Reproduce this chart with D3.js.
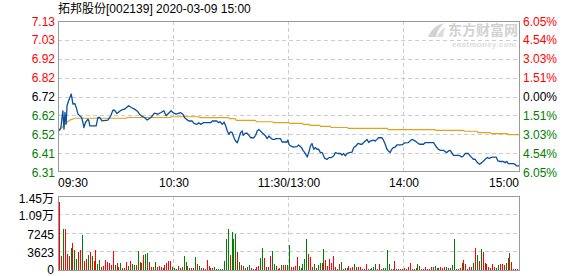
<!DOCTYPE html>
<html><head><meta charset="utf-8">
<script src="https://cdn.jsdelivr.net/npm/d3@7"></script>
<style>
body{margin:0;background:#fff;}
svg{display:block;font-family:"Liberation Sans",Arial,"Noto Sans CJK SC",sans-serif;}
</style>
</head><body><svg id="c" width="578" height="276"></svg>
<script>
// ---------- data ----------
const title = "拓邦股份[002139] 2020-03-09 15:00";
const prevClose = 6.72;
const maxPct = 6.05;
const pctTicks = [6.05, 4.54, 3.03, 1.51, 0, -1.51, -3.03, -4.54, -6.05];
const priceLabels = ["7.13","7.03","6.92","6.82","6.72","6.62","6.52","6.41","6.31"];
const pctLabels = ["6.05%","4.54%","3.03%","1.51%","0.00%","1.51%","3.03%","4.54%","6.05%"];
const timeTicks = [0, 60, 120, 180, 240];
const timeLabels = ["09:30","10:30","11:30/13:00","14:00","15:00"];
const volTicks = [14490, 10868, 7245, 3623, 0];
const volLabels = ["1.45万","1.09万","7245","3623","0"];

// price line: minutes since 09:30 (trading minutes) and price
const priceT = [0,1,2,2.6,3.1,3.7,4.2,5,5.7,6.4,7.3,8.2,9,9.9,10.8,11.8,12.5,13,13.8,15.1,15.6,16.1,19.4,20.3,21.2,22.4,25.5,27,28.1,29,30.3,31.5,32.4,34.2,36.3,37.7,39.4,41.1,42,43,44.6,46,48,49.8,51.5,53.3,54.7,55.9,57.6,58.5,59.4,61,63.5,64.6,65.6,66.5,67.8,69.5,70.4,72,72.9,74,75.3,79.1,80,82.3,83.1,84,85.2,86.1,87,87.8,88.7,89.5,90.4,91.3,92.1,93,93.9,94.7,95.6,96.1,97.3,98.2,99.1,100,101.7,102.6,103.4,104.3,106,107.8,108.6,109.5,110.4,111.3,112.4,113.4,115.6,116.4,119,119.4,120,
120.8,122,124.2,125,126.5,127.3,128.2,129.5,130.3,131.2,132,132.9,133.8,134.6,135.5,136.4,137.3,138.6,139.9,140.8,142.1,143.3,144.2,145.5,146.8,147.6,148.5,149.4,150.3,151.5,152.9,153.8,155,156,157.2,158.1,159,159.8,160.7,161.6,162.4,164.1,165,165.9,166.7,168.5,169.3,170.2,171.1,171.9,172.8,173.6,174.5,175.4,176.3,178.9,180.3,182.3,183.2,184.1,185,185.9,186.8,188.1,190.2,191.1,195.4,196.2,197.1,198,198.9,200.6,201.5,202.3,203.2,204.1,204.9,205.8,208.4,209.3,210.1,211,211.9,213.6,214.5,215.4,216.2,217.1,218.3,219.4,220.6,221.5,222.4,223.5,224.4,225.3,226.2,228.1,229,230.1,231.8,232.7,233.6,234.4,237,237.9,238.8,240];
const priceV = [6.535,6.553,6.643,6.544,6.634,6.571,6.670,6.697,6.715,6.733,6.679,6.682,6.661,6.625,6.616,6.607,6.580,6.553,6.580,6.598,6.589,6.562,6.562,6.607,6.607,6.589,6.593,6.616,6.646,6.646,6.628,6.639,6.646,6.652,6.670,6.661,6.652,6.639,6.625,6.616,6.607,6.593,6.607,6.630,6.625,6.634,6.643,6.616,6.634,6.643,6.634,6.625,6.633,6.624,6.606,6.597,6.588,6.588,6.575,6.570,6.579,6.570,6.579,6.579,6.588,6.588,6.579,6.584,6.570,6.582,6.561,6.534,6.516,6.529,6.525,6.498,6.480,6.471,6.498,6.525,6.534,6.511,6.522,6.522,6.511,6.498,6.498,6.511,6.534,6.543,6.525,6.507,6.493,6.507,6.498,6.489,6.489,6.493,6.493,6.475,6.475,6.486,6.462,
6.454,6.448,6.450,6.459,6.445,6.430,6.418,6.394,6.418,6.454,6.467,6.436,6.445,6.436,6.436,6.418,6.418,6.387,6.382,6.391,6.391,6.400,6.418,6.413,6.413,6.405,6.413,6.400,6.413,6.418,6.421,6.445,6.454,6.467,6.463,6.463,6.472,6.480,6.489,6.472,6.480,6.485,6.480,6.489,6.498,6.498,6.485,6.463,6.436,6.426,6.418,6.436,6.445,6.448,6.459,6.459,6.470,6.472,6.480,6.489,6.485,6.480,6.472,6.463,6.463,6.472,6.472,6.459,6.445,6.436,6.430,6.430,6.423,6.418,6.427,6.430,6.418,6.403,6.403,6.400,6.394,6.400,6.413,6.413,6.400,6.391,6.382,6.382,6.364,6.355,6.364,6.373,6.382,6.391,6.386,6.391,6.394,6.394,6.373,6.370,6.370,6.364,6.370,6.359,6.359,6.355,6.346,6.346];

// average price line
const avgT = [0,2.3,4,5.7,8.3,35,35.5,58,58.5,73,73.5,88.5,89,92,92.5,102.5,103,111.4,112,120,120.5,127,127.5,130.5,131,136,136.5,141.6,142,150.4,151,171.3,171.8,196,196.5,211,211.5,218,218.5,225,225.5,234,234.5,240];
const avgV = [6.535,6.562,6.580,6.593,6.603,6.603,6.607,6.607,6.611,6.611,6.606,6.606,6.601,6.601,6.591,6.591,6.584,6.584,6.579,6.579,6.575,6.575,6.570,6.570,6.565,6.565,6.559,6.559,6.553,6.553,6.548,6.548,6.542,6.542,6.538,6.538,6.533,6.533,6.526,6.526,6.520,6.520,6.515,6.515];

// volume per minute (morning 121 bars, afternoon 120 bars); r = up, g = down
const volAM = [13390,2740,8030,8030,3130,2740,4240,5350,3920,2150,
3590,3920,6860,1760,2150,2940,3590,2740,1760,3920,
1180,1960,650,780,1960,1630,1310,980,3790,980,
1440,520,1310,330,330,1630,780,1760,1180,980,
980,3790,1630,1440,2940,3130,3270,1630,520,650,
1630,520,780,520,400,980,1440,1760,1760,520,330,
130,780,330,520,2740,1630,780,330,330,330,
2480,1180,780,330,330,260,1960,780,330,330,
520,260,260,260,260,1830,6010,8030,2940,7380,
6010,7050,3590,1630,980,780,330,520,980,330,
260,260,520,780,2290,4240,2290,520,520,2740,
3790,1180,780,260,330,980,980,980,980,4830];
const dirAM = "rrgrrrgrgg"+"rrgrrgrgrr"+"ggrrrrrrrg"+"rrgrrrgrgg"+"rgrgrggrrr"+"grrrrrrrrgg"+"grrgggrgrr"+"grggrrrrrr"+"ggggggggrg"+"ggrgrgrggr"+"rrrrggrgrr"+"ggrrrgrrgg";
const volPM = [520,520,780,2480,780,330,1180,2090,6010,3130,
2480,520,1180,330,980,1310,1440,4050,1960,780,
2090,1440,2740,520,260,1180,1630,130,330,330,
780,330,520,1180,520,520,520,260,260,1180,
260,260,330,520,1180,260,1180,260,390,390,
3920,1180,260,260,1830,260,260,260,260,330,
260,520,1440,260,260,330,1180,780,260,260,
520,260,260,520,520,780,330,330,520,330,
520,650,390,390,980,6010,260,260,330,1310,
1960,1180,260,520,520,1440,4240,2940,1830,4050,
3590,1440,1180,520,330,1180,520,330,980,1180,
1180,980,1440,2290,3270,1630,260,260,260,6400];
const dirPM = "rrrrgggggr"+"rrgrggrgrr"+"rrrrgrgggr"+"rrrgrrrrrr"+"grgggrrrgg"+"ggrrrrrrrr"+"rrrrgrggrr"+"rrrrrggrrr"+"rgrgggrrrg"+"rrrrrgrgrg"+"rrrrrrrggr"+"rrgrgrrrrg";

// ---------- drawing ----------
const svg = d3.select("#c");
const L = 58, R = 519, T = 21, B = 172, VT = 196, VB = 270;
const RED = "#ff0000", GREEN = "#008000", GRID = "#cccccc", BORDER = "#999999";

const x = d3.scaleLinear().domain([0, 240]).range([59, 519]);
const yPct = d3.scaleLinear().domain([-maxPct, maxPct]).range([B, T]);
const toPct = p => (p / prevClose - 1) * 100;
const yP = p => yPct(toPct(p));
const yV = d3.scaleLinear().domain([0, 14490]).range([VB, VT]);

// title
svg.append("text").attr("x", 58).attr("y", 13).attr("font-size", 12).attr("fill", "#000").text(title);

// watermark
const wm = svg.append("g").attr("fill", "#d2d2d2");
wm.append("path").attr("d", "M428,37 C431,30 436,25 444,23 C440,27 437,31 436,37 Z");
wm.append("path").attr("d", "M437,37 C439,32 442,29 446,27 C444,30 443,33 443,37 Z").attr("fill", "#dcdcdc");
wm.append("text").attr("x", 448).attr("y", 35).attr("font-size", 14).attr("font-weight", "bold").attr("font-family", "Noto Sans CJK SC").attr("textLength", 70).text("东方财富网");
wm.append("text").attr("x", 452).attr("y", 47).attr("font-size", 8).attr("font-weight", "bold").attr("fill", "#dddddd").attr("textLength", 64).text("eastmoney.com");

// grid main
const gm = svg.append("g").attr("stroke", GRID).attr("stroke-dasharray", "4,3").attr("shape-rendering", "crispEdges");
gm.selectAll("line.h").data(pctTicks.slice(1, -1)).join("line")
  .attr("x1", L).attr("x2", R).attr("y1", d => Math.round(yPct(d)) + 0.5).attr("y2", d => Math.round(yPct(d)) + 0.5);
gm.selectAll("line.v").data(timeTicks.slice(1, -1)).join("line")
  .attr("y1", T).attr("y2", B).attr("x1", d => Math.round(x(d)) - 0.5).attr("x2", d => Math.round(x(d)) - 0.5);

// grid volume
const gv = svg.append("g").attr("stroke", GRID).attr("stroke-dasharray", "4,3").attr("shape-rendering", "crispEdges");
gv.selectAll("line.h").data(volTicks.slice(1, -1)).join("line")
  .attr("x1", L).attr("x2", R).attr("y1", d => Math.round(yV(d)) + 0.5).attr("y2", d => Math.round(yV(d)) + 0.5);
gv.selectAll("line.v").data(timeTicks.slice(1, -1)).join("line")
  .attr("y1", VT).attr("y2", VB).attr("x1", d => Math.round(x(d)) - 0.5).attr("x2", d => Math.round(x(d)) - 0.5);

// volume bars
const bars = volAM.map((v, i) => ({i: i, v: v, d: dirAM[i]}))
  .concat(volPM.map((v, i) => ({i: 121 + i, v: v, d: dirPM[i]})));
svg.append("g").attr("shape-rendering", "crispEdges").selectAll("rect").data(bars).join("rect")
  .attr("x", d => Math.round(x(d.i))).attr("width", 1)
  .attr("y", d => yV(d.v)).attr("height", d => VB - yV(d.v))
  .attr("fill", d => d.d === "r" ? RED : GREEN);

// average line
const avgPts = avgT.map((t, i) => [t, avgV[i]]);
svg.append("path").datum(avgPts)
  .attr("d", d3.line().x(d => x(d[0])).y(d => yP(d[1])))
  .attr("fill", "none").attr("stroke", "#e0a21c").attr("stroke-width", 1.2);

// price line
const pPts = priceT.map((t, i) => [t, priceV[i]]);
svg.append("path").datum(pPts)
  .attr("d", d3.line().x(d => x(d[0])).y(d => yP(d[1])))
  .attr("fill", "none").attr("stroke", "#0b4f9f").attr("stroke-width", 1.3).attr("stroke-linejoin", "round");

// borders
svg.append("rect").attr("x", L + 0.5).attr("y", T + 0.5).attr("width", R - L).attr("height", B - T - 1)
  .attr("fill", "none").attr("stroke", BORDER);
svg.append("rect").attr("x", L + 0.5).attr("y", VT + 0.5).attr("width", R - L).attr("height", VB - VT)
  .attr("fill", "none").attr("stroke", BORDER);

// axis labels
const colOf = v => v > 0 ? RED : (v < 0 ? GREEN : "#000");
svg.append("g").selectAll("text").data(pctTicks).join("text")
  .attr("x", 55).attr("y", d => yPct(d) + 4.5).attr("text-anchor", "end").attr("font-size", 12)
  .attr("fill", colOf).text((d, i) => priceLabels[i]);
svg.append("g").selectAll("text").data(pctTicks).join("text")
  .attr("x", 523).attr("y", d => yPct(d) + 4.5).attr("font-size", 12)
  .attr("fill", colOf).text((d, i) => pctLabels[i]);
svg.append("g").selectAll("text").data(volTicks).join("text")
  .attr("x", 54).attr("y", (d, i) => yV(d) + (i === 0 ? 6.5 : (i === volTicks.length - 1 ? 3.5 : 5.5)))
  .attr("text-anchor", "end").attr("font-size", 12)
  .attr("fill", "#000").text((d, i) => volLabels[i]);
svg.append("g").selectAll("text").data(timeTicks).join("text")
  .attr("x", (d, i) => i === 0 ? L : (i === timeTicks.length - 1 ? R : x(d)))
  .attr("y", 187).attr("font-size", 12).attr("fill", "#000")
  .attr("text-anchor", (d, i) => i === 0 ? "start" : (i === timeTicks.length - 1 ? "end" : "middle"))
  .text((d, i) => timeLabels[i]);
</script>
</body></html>
